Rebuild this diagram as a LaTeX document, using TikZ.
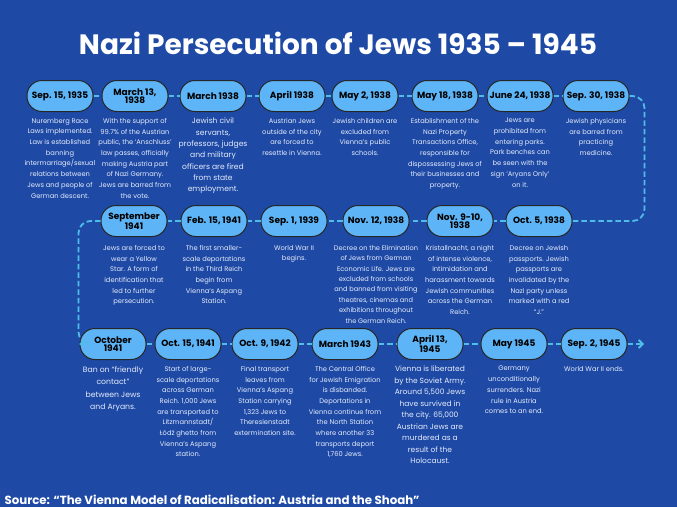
\documentclass[tikz,border=0pt]{standalone}
\usepackage{fontspec}
\setmainfont{Poppins}
\usetikzlibrary{positioning,arrows.meta}
\definecolor{bgblue}{HTML}{1E4AA6}
\definecolor{pillblue}{HTML}{5DB4F6}
\definecolor{dashblue}{HTML}{4FBDE8}
\definecolor{txtwhite}{HTML}{E6ECFA}
\tikzset{
  date/.style={draw=black!85,line width=1pt,fill=pillblue,rounded corners=15pt,
    minimum width=66pt,minimum height=31pt,inner sep=1pt,align=center,
    font=\fontsize{9}{8}\selectfont\bfseries},
  info/.style={text=txtwhite,align=center,inner sep=0pt,
    font=\fontsize{6.7}{10.7}\selectfont},
  link/.style={dashblue,line width=1.8pt,dash pattern=on 5.5pt off 3pt},
}
\begin{document}
\begin{tikzpicture}[x=1pt,y=-1pt]
  \fill[bgblue] (0,0) rectangle (677,507);
  \path[use as bounding box] (0,0) rectangle (677,507);
  \node[text=white,font=\fontsize{28}{32}\selectfont\bfseries] (title) at (338,43)
    {Nazi Persecution of Jews 1935 -- 1945};
  % first row
  \node[date] (sep35) at (60,96) {Sep. 15, 1935};
  \node[date] (mar13) at (135,96) {March 13,\\1938};
  \node[date] (mar38) at (213,96) {March 1938};
  \node[date] (apr38) at (292,96) {April 1938};
  \node[date] (may2) at (365,96) {May 2, 1938};
  \node[date] (may18) at (445,96) {May 18, 1938};
  \node[date] (jun24) at (520,96) {June 24, 1938};
  \node[date] (sep30) at (596,96) {Sep. 30, 1938};
  \node[info,below=6pt of sep35] (t1) {Nuremberg Race\\Laws implemented.\\Law is established\\banning\\intermarriage/sexual\\relations between\\Jews and people of\\German descent.};
  \node[info,below=6pt of mar13] (t2) {With the support of\\99.7\% of the Austrian\\public, the ‘Anschluss’\\law passes, officially\\making Austria part\\of Nazi Germany.\\Jews are barred from\\the vote.};
  \node[info,below=6pt of mar38,font=\fontsize{7.6}{11.3}\selectfont] (t3) {Jewish civil\\servants,\\professors, judges\\and military\\officers are fired\\from state\\employment.};
  \node[info,below=6pt of apr38] (t4) {Austrian Jews\\outside of the city\\are forced to\\resettle in Vienna.};
  \node[info,below=6pt of may2] (t5) {Jewish children are\\excluded from\\Vienna’s public\\schools.};
  \node[info,below=6pt of may18] (t6) {Establishment of the\\Nazi Property\\Transactions Office,\\responsible for\\dispossessing Jews of\\their businesses and\\property.};
  \node[info,below=6pt of jun24] (t7) {Jews are\\prohibited from\\entering parks.\\Park benches can\\be seen with the\\sign ‘Aryans Only’\\on it.};
  \node[info,below=6pt of sep30] (t8) {Jewish physicians\\are barred from\\practicing\\medicine.};
  % second row
  \node[date] (sep41) at (134,221) {September\\1941};
  \node[date] (feb15) at (214,221) {Feb. 15, 1941};
  \node[date] (sep1) at (294,221) {Sep. 1, 1939};
  \node[date] (nov12) at (376,221) {Nov. 12, 1938};
  \node[date] (nov9) at (460,221) {Nov. 9-10,\\1938};
  \node[date] (oct5) at (539,221) {Oct. 5, 1938};
  \node[info,below=8pt of sep41] (u1) {Jews are forced to\\wear a Yellow\\Star. A form of\\identification that\\led to further\\persecution.};
  \node[info,below=8pt of feb15] (u2) {The first smaller-\\scale deportations\\in the Third Reich\\begin from\\Vienna’s Aspang\\Station.};
  \node[info,below=8pt of sep1] (u3) {World War II\\begins.};
  \node[info,below=8pt of nov12,font=\fontsize{6.6}{10.4}\selectfont] (u4) {Decree on the Elimination\\of Jews from German\\Economic Life. Jews are\\excluded from schools\\and banned from visiting\\theatres, cinemas and\\exhibitions throughout\\the German Reich.};
  \node[info,below=8pt of nov9] (u5) {Kristallnacht, a night\\of intense violence,\\intimidation and\\harassment towards\\Jewish communities\\across the German\\Reich.};
  \node[info,below=8pt of oct5] (u6) {Decree on Jewish\\passports. Jewish\\passports are\\invalidated by the\\Nazi party unless\\marked with a red\\“J.”};
  % third row
  \node[date] (oct41) at (113,344) {October\\1941};
  \node[date] (oct15) at (188,344) {Oct. 15, 1941};
  \node[date] (oct9) at (265,344) {Oct. 9, 1942};
  \node[date] (mar43) at (345,344) {March 1943};
  \node[date] (apr13) at (430,344) {April 13,\\1945};
  \node[date] (may45) at (514,344) {May 1945};
  \node[date] (sep2) at (594,344) {Sep. 2, 1945};
  \node[info,below=6pt of oct41,font=\fontsize{7.7}{12.5}\selectfont] (v1) {Ban on “friendly\\contact”\\between Jews\\and Aryans.};
  \node[info,below=6pt of oct15] (v2) {Start of large-\\scale deportations\\across German\\Reich. 1,000 Jews\\are transported to\\Litzmannstadt/\\Łódź ghetto from\\Vienna’s Aspang\\station.};
  \node[info,below=6pt of oct9] (v3) {Final transport\\leaves from\\Vienna’s Aspang\\Station carrying\\1,323 Jews to\\Theresienstadt\\extermination site.};
  \node[info,below=6pt of mar43] (v4) {The Central Office\\for Jewish Emigration\\is disbanded.\\Deportations in\\Vienna continue from\\the North Station\\where another 33\\transports deport\\1,760 Jews.};
  \node[info,below=6pt of apr13,font=\fontsize{7.5}{11.5}\selectfont] (v5) {Vienna is liberated\\by the Soviet Army.\\Around 5,500 Jews\\have survived in\\the city. 65,000\\Austrian Jews are\\murdered as a\\result of the\\Holocaust.};
  \node[info,below=6pt of may45] (v6) {Germany\\unconditionally\\surrenders. Nazi\\rule in Austria\\comes to an end.};
  \node[info,below=6pt of sep2] (v7) {World War II ends.};
  % dashed timeline
  \draw[link] (sep35) -- (mar13);
  \draw[link] (mar13) -- (mar38);
  \draw[link] (mar38) -- (apr38);
  \draw[link] (apr38) -- (may2);
  \draw[link] (may2) -- (may18);
  \draw[link] (may18) -- (jun24);
  \draw[link] (jun24) -- (sep30);
  \draw[link,rounded corners=12pt] (sep30.east) -- ++(15,0) |- (oct5.east);
  \draw[link] (oct5) -- (nov9);
  \draw[link] (nov9) -- (nov12);
  \draw[link] (nov12) -- (sep1);
  \draw[link] (sep1) -- (feb15);
  \draw[link] (feb15) -- (sep41);
  \draw[link,rounded corners=12pt] (sep41.west) -- ++(-22,0) |- (oct41.west);
  \draw[link] (oct41) -- (oct15);
  \draw[link] (oct15) -- (oct9);
  \draw[link] (oct9) -- (mar43);
  \draw[link] (mar43) -- (apr13);
  \draw[link] (apr13) -- (may45);
  \draw[link] (may45) -- (sep2);
  \coordinate (tip) at (644,344);
  \draw[link,-{Straight Barb[length=4pt,width=8pt]}] (sep2) -- (tip);
  \node[anchor=base west,text=white,font=\fontsize{11.8}{13}\selectfont\bfseries] (src) at (1,504)
    {Source: “The Vienna Model of Radicalisation: Austria and the Shoah”};
\end{tikzpicture}
\end{document}
